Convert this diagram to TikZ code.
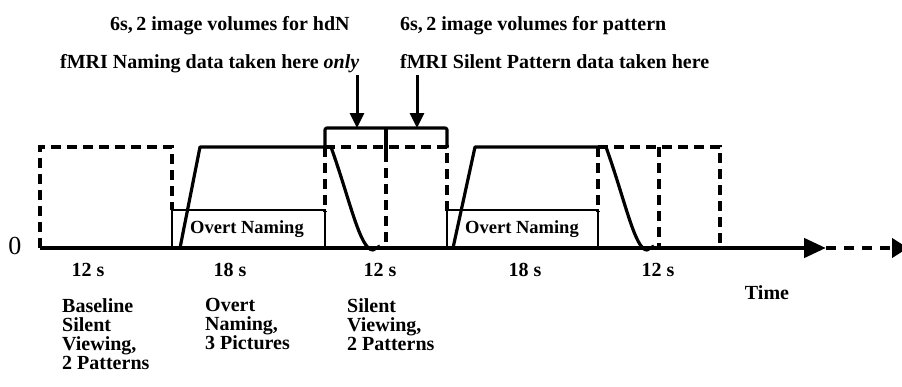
\documentclass[tikz,border=0pt]{standalone}
\usepackage{fontspec}
\setmainfont{Liberation Serif}
\usetikzlibrary{arrows.meta}
\begin{document}
\begin{tikzpicture}[x=1pt,y=-1pt,
  lbl/.style={font=\bfseries\fontsize{20}{20}\selectfont, inner sep=0pt},
  desc/.style={font=\bfseries\fontsize{20}{19}\selectfont, inner sep=0pt, align=left, anchor=north west},
  dsh/.style={line width=3.2pt, dash pattern=on 10pt off 6pt},
  solidln/.style={line width=3.2pt, line join=round},
  boxln/.style={line width=2.8pt},
  callout/.style={line width=3pt, -{Triangle[length=15pt,width=14pt]}},
]
\useasboundingbox (0,0) rectangle (902,386);

% top labels
\node[lbl, anchor=base west] (t1) at (110,30) {6s,\,2 image volumes for hdN};
\node[lbl, anchor=base west] (t2) at (400,30) {6s,\,2 image volumes for pattern};
\node[lbl, anchor=base west] (t3) at (60,68) {fMRI Naming data taken here \textit{only}};
\node[lbl, anchor=base west] (t4) at (400,68) {fMRI Silent Pattern data taken here};

% callout arrows
\coordinate (a1s) at (357,75); \coordinate (a1e) at (357,128);
\coordinate (a2s) at (417,75); \coordinate (a2e) at (417,128);
\draw[callout] (a1s) -- (a1e);
\draw[callout] (a2s) -- (a2e);

% bracket
\draw[solidln, rounded corners=2pt] (325,148) -- (325,128) -- (447,128) -- (447,148);
\draw[solidln] (386,128) -- (386,152);

% dashed boxes
\draw[dsh] (40,248) -- (40,147) -- (172,147) -- (172,210);
\draw[dsh] (325,147) -- (325,212);
\draw[dsh] (325,147) -- (447,147) -- (447,212);
\draw[dsh] (386,152) -- (386,248);
\draw[dsh] (598,147) -- (598,212);
\draw[dsh] (598,147) -- (720,147) -- (720,248);
\draw[dsh] (659,147) -- (659,248);

% overt naming boxes
\draw[boxln] (172,248) rectangle (325,210);
\node[lbl, font=\bfseries\fontsize{18.5}{18.5}\selectfont] (on1) at (247,229) {Overt Naming};
\draw[boxln] (447,248) rectangle (598,210);
\node[lbl, font=\bfseries\fontsize{18.5}{18.5}\selectfont] (on2) at (522,229) {Overt Naming};

% response curves
\draw[solidln] (180,248) -- (200,147) -- (331,147)
  .. controls (350,200) and (360,250) .. (373,250) -- (380,246);
\draw[solidln] (453,248) -- (475,147) -- (606,147)
  .. controls (625,200) and (635,250) .. (647,250) -- (654,246);

% axis
\node[font=\fontsize{26}{26}\selectfont, inner sep=0pt] (zero) at (15,246) {0};
\coordinate (ax0) at (40,248);
\coordinate (ax1) at (826,248);
\coordinate (ax2) at (908,248);
\draw[line width=4.5pt, -{Triangle[length=22pt,width=19pt]}] (ax0) -- (ax1);
\draw[line width=4.5pt, dash pattern=on 10pt off 8pt, -{Triangle[length=16pt,width=19pt]}] (ax1) -- (ax2);

% durations
\node[lbl] (d1) at (88,270) {12 s};
\node[lbl] (d2) at (230,270) {18 s};
\node[lbl] (d3) at (380,270) {12 s};
\node[lbl] (d4) at (525,270) {18 s};
\node[lbl] (d5) at (658,270) {12 s};
\node[lbl] (time) at (767,293) {Time};

% descriptions
\node[desc] (s1) at (62,298) {Baseline\\Silent\\Viewing,\\2 Patterns};
\node[desc] (s2) at (205,298) {Overt\\Naming,\\3 Pictures};
\node[desc] (s3) at (347,298) {Silent\\Viewing,\\2 Patterns};
\end{tikzpicture}
\end{document}
